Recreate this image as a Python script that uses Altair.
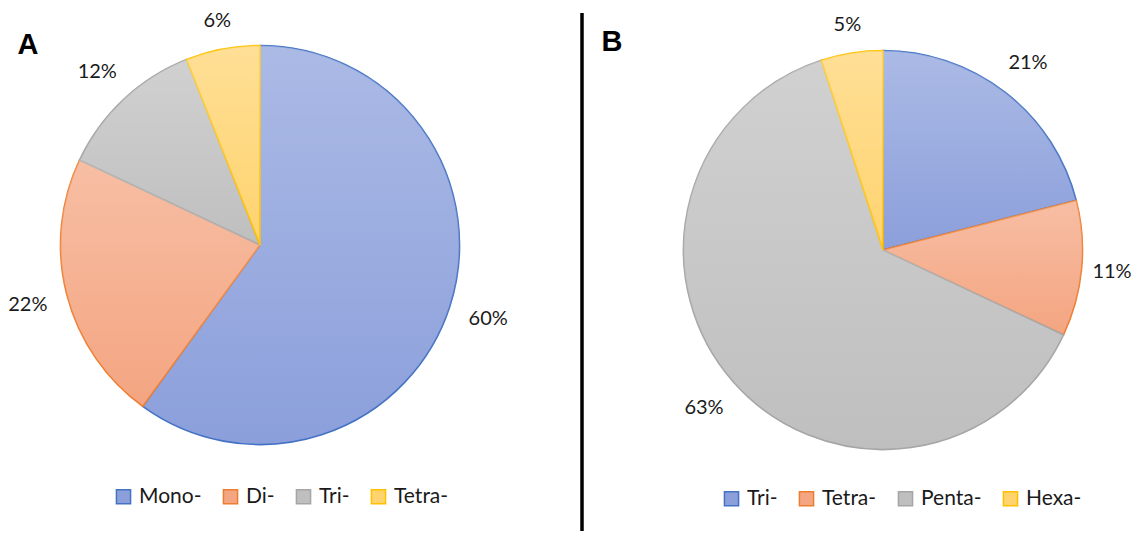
import altair as alt
import pandas as pd

cat_a = ["Mono-", "Di-", "Tri-", "Tetra-"]
val_a = [60, 22, 12, 6]
cat_b = ["Tri-", "Tetra-", "Penta-", "Hexa-"]
val_b = [21, 11, 63, 5]

fills = ["#8B9FDB", "#F4A581", "#BFBFBF", "#FFD36E"]
strokes = ["#4472C4", "#ED7D31", "#A5A5A5", "#FFC000"]

df_a = pd.DataFrame({"cat": cat_a, "value": val_a, "order": range(len(cat_a))})
df_b = pd.DataFrame({"cat": cat_b, "value": val_b, "order": range(len(cat_b))})

W, H = 1126, 523
R = 199.5
FONT = "Lato"
THETA_SCALE = alt.Scale(domain=[0, 100])

shine = alt.Gradient(
    gradient="linear",
    stops=[
        alt.GradientStop(color="rgba(255,255,255,0.28)", offset=0),
        alt.GradientStop(color="rgba(255,255,255,0)", offset=1),
    ],
    x1=0, x2=0, y1=0, y2=1,
)


def pie(df, cats, cx, cy, lx, ly):
    base = alt.Chart(df).transform_calculate(label="datum.value + '%'")
    theta = alt.Theta("value:Q", stack=True, scale=THETA_SCALE)
    order = alt.Order("order:Q")
    arcs = base.mark_arc(radius=R, x=cx, y=cy, strokeWidth=1.6).encode(
        theta=theta,
        order=order,
        color=alt.Color(
            "cat:N",
            scale=alt.Scale(domain=cats, range=fills),
            sort=cats,
            legend=alt.Legend(
                orient="none", legendX=lx, legendY=ly, direction="horizontal",
                title=None, symbolType="square", symbolSize=200,
                symbolStrokeWidth=1.5, symbolOpacity=1, labelFont=FONT,
                labelFontSize=21, labelColor="#1a1a1a", columnPadding=18,
                labelOffset=5,
            ),
        ),
        stroke=alt.Stroke(
            "cat:N", scale=alt.Scale(domain=cats, range=strokes), sort=cats,
            legend=None,
        ),
    )
    over = base.mark_arc(radius=R, x=cx, y=cy, fill=shine, strokeWidth=0).encode(
        theta=theta, order=order
    )
    # label at the middle of its slice: a gap outside the rim plus half the text box,
    # kept inside the drawing on the right
    text = (
        base.transform_window(
            cum="sum(value)", sort=[alt.SortField("order")], frame=[None, 0]
        )
        .transform_calculate(midv="datum.cum - datum.value / 2")
        .transform_calculate(mid="datum.midv / 100 * 2 * PI")
        .transform_calculate(
            lr=f"min(214 + 24 * abs(sin(datum.mid)) + 10 * abs(cos(datum.mid)), "
               f"({W - 22} - {cx}) / max(sin(datum.mid), 0.01))"
        )
        .mark_text(x=cx, y=cy, font=FONT, fontSize=20, color="#1a1a1a")
        .encode(
            theta=alt.Theta("midv:Q", stack=None, scale=THETA_SCALE),
            radius=alt.Radius("lr:Q", scale=None),
            text="label:N",
        )
    )
    return [arcs, over, text]


layers = pie(df_a, cat_a, 252, 237, 105, 478) + pie(df_b, cat_b, 713, 480) if False else (
    pie(df_a, cat_a, 252, 237, 105, 478) + pie(df_b, cat_b, 875, 242, 713, 480)
)

letters = pd.DataFrame({"t": ["A", "B"], "px": [20, 604], "py": [37, 34]})
letter_layers = [
    alt.Chart(letters.iloc[[i]]).mark_text(
        font="Liberation Sans", fontWeight="bold", fontSize=29, color="black",
        x=int(letters.px[i]), y=int(letters.py[i]),
    ).encode(text="t:N")
    for i in range(2)
]

divider = alt.Chart(pd.DataFrame({"d": [0]})).mark_rule(
    color="black", strokeWidth=3.5
).encode(x=alt.value(574), x2=alt.value(574), y=alt.value(5), y2=alt.value(H))

chart = (
    alt.layer(*layers, divider, *letter_layers)
    .resolve_scale(color="independent", stroke="independent")
    .properties(width=W, height=H, padding=0, autosize="none")
    .configure_view(stroke=None)
)

chart.save("out.html", embed_options={"renderer": "svg", "actions": False})
